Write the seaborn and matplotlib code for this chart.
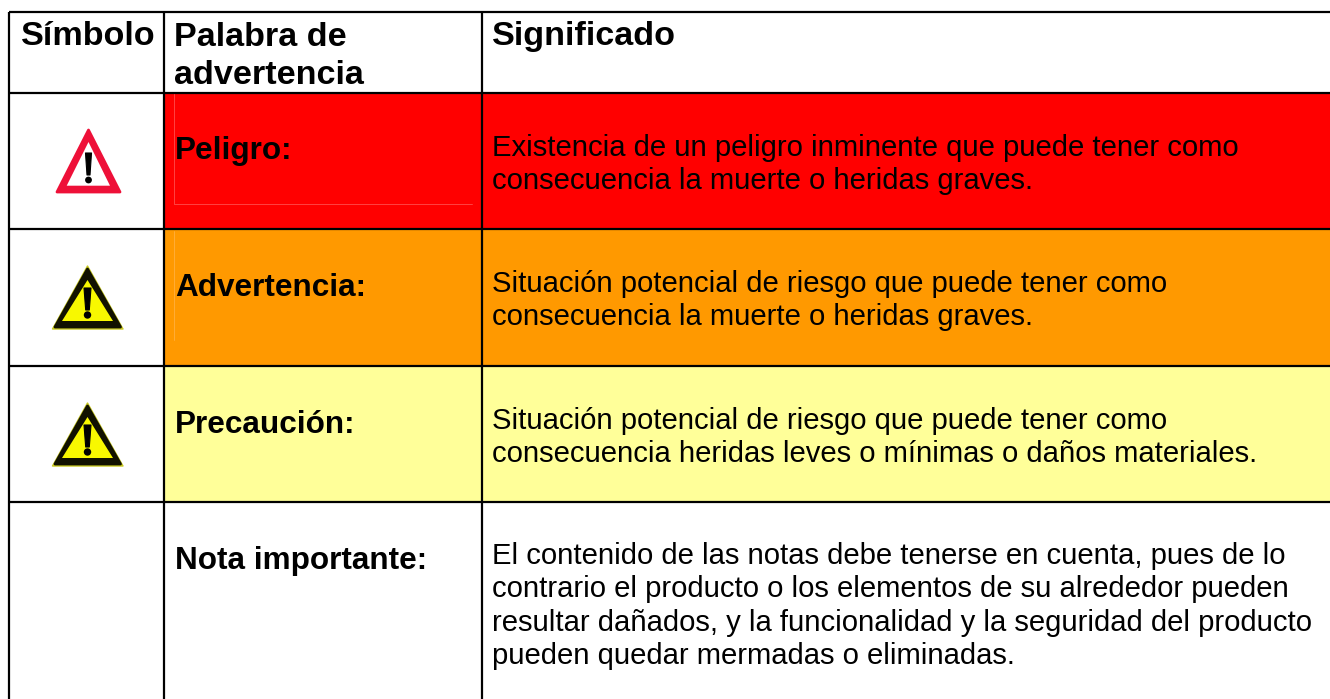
import numpy as np
import seaborn as sns
import matplotlib.pyplot as plt
from matplotlib.colors import ListedColormap
from matplotlib.patches import Polygon, Circle

# Textos de la tabla
HEADERS = ["Símbolo", "Palabra de\nadvertencia", "Significado"]
WORDS = ["Peligro:", "Advertencia:", "Precaución:", "Nota importante:"]
MEANINGS = [
    "Existencia de un peligro inminente que puede tener como\nconsecuencia la muerte o heridas graves.",
    "Situación potencial de riesgo que puede tener como\nconsecuencia la muerte o heridas graves.",
    "Situación potencial de riesgo que puede tener como\nconsecuencia heridas leves o mínimas o daños materiales.",
    "El contenido de las notas debe tenerse en cuenta, pues de lo\ncontrario el producto o los elementos de su alrededor pueden\nresultar dañados, y la funcionalidad y la seguridad del producto\npueden quedar mermadas o eliminadas.",
]

# Colores de las celdas: 0 blanco, 1 rojo, 2 naranja, 3 amarillo
CELL_COLORS = ["#FFFFFF", "#FF0000", "#FF9900", "#FFFF99"]
CELL_CODES = [
    [0, 0, 0, 0],
    [0, 0, 0, 0],
    [0, 0, 1, 1],
    [0, 0, 2, 2],
    [0, 0, 3, 3],
    [0, 0, 0, 0],
]

# Tamaño de filas y columnas en píxeles (la primera es el margen)
ROW_PX = [12, 81, 136, 137, 136, 197]
COL_PX = [9, 155, 318, 848]

sns.set_theme(style="white")
plt.rcParams["font.family"] = ["Liberation Sans", "DejaVu Sans"]

fig = plt.figure(figsize=(13.3, 6.99), dpi=100)
ax = fig.add_axes([0, 0, 1, 1])

grid = np.repeat(np.repeat(np.array(CELL_CODES), ROW_PX, axis=0), COL_PX, axis=1)
sns.heatmap(grid, ax=ax, cmap=ListedColormap(CELL_COLORS), vmin=0, vmax=3,
            cbar=False, xticklabels=False, yticklabels=False)
ax.set_xlim(0, 1330)
ax.set_ylim(699, 0)

# Rejilla
col_edges = np.cumsum(COL_PX)
row_edges = np.cumsum(ROW_PX)
ax.vlines(col_edges[:3], row_edges[0], 699, color="black", lw=1.6)
ax.hlines(row_edges[:5], col_edges[0], 1330, color="black", lw=1.6)

# Líneas tenues dentro de las celdas de color
ax.plot([173.5, 173.5, 472], [94, 204, 204], color="#FF4D4D", lw=0.6)
ax.plot([173.5, 173.5], [231, 340], color="#FFB040", lw=0.6)

# Encabezados
FS_HEAD = 24.6
FS_WORD = 22.7
FS_BODY = 21.05
ax.text(21, 45, HEADERS[0], fontsize=FS_HEAD, fontweight="bold", color="black", va="baseline")
ax.text(174, 84, HEADERS[1], fontsize=FS_HEAD, fontweight="bold", color="black", va="baseline", linespacing=1.29)
ax.text(492, 45, HEADERS[2], fontsize=FS_HEAD, fontweight="bold", color="black", va="baseline")

# Palabras de advertencia
word_y = [159, 296, 433, 569]
for word, y in zip(WORDS, word_y):
    ax.text(175, y, word, fontsize=FS_WORD, fontweight="bold", color="black", va="baseline")

# Significados (línea base de la última línea)
mean_y = [189, 325, 462, 664]
for text, y in zip(MEANINGS, mean_y):
    ax.text(492, y, text, fontsize=FS_BODY, color="black", va="baseline", linespacing=1.24)


# Iconos
def warning_icon(outer, inner, rim, fill, bar, dot):
    ax.add_patch(Polygon(outer, closed=True, fc=rim, ec=rim, lw=2, joinstyle="round"))
    ax.add_patch(Polygon(inner, closed=True, fc=fill, ec=fill, lw=0))
    ax.add_patch(Polygon(bar, closed=True, fc="black", ec="black", lw=0.8, joinstyle="round"))
    ax.add_patch(Circle(dot[:2], dot[2], fc="black", ec="none"))


warning_icon([(88.5, 130), (57, 192), (120, 192)],
             [(88.5, 142), (66.7, 185.7), (110, 185.7)],
             "#EE1038", "white",
             [(85.5, 153), (91.5, 153), (90, 175), (87, 175)], (88.5, 180, 3.4))

for dy in (0, 137):
    # borde exterior verdoso bajo el triángulo negro
    ax.add_patch(Polygon([(87.5, 266 + dy), (52.5, 329 + dy), (123, 329 + dy)], closed=True,
                         fc="#C8C820", ec="#C8C820", lw=1, joinstyle="round"))
    warning_icon([(87.5, 269 + dy), (55, 327 + dy), (120.5, 327 + dy)],
                 [(87.5, 280 + dy), (62, 321 + dy), (113, 321 + dy)],
                 "#111100", "#F8F800",
                 [(84, 288 + dy), (91, 288 + dy), (89.3, 310 + dy), (85.7, 310 + dy)], (87.5, 315 + dy, 3.7))

fig.savefig("out.png", dpi=100)
